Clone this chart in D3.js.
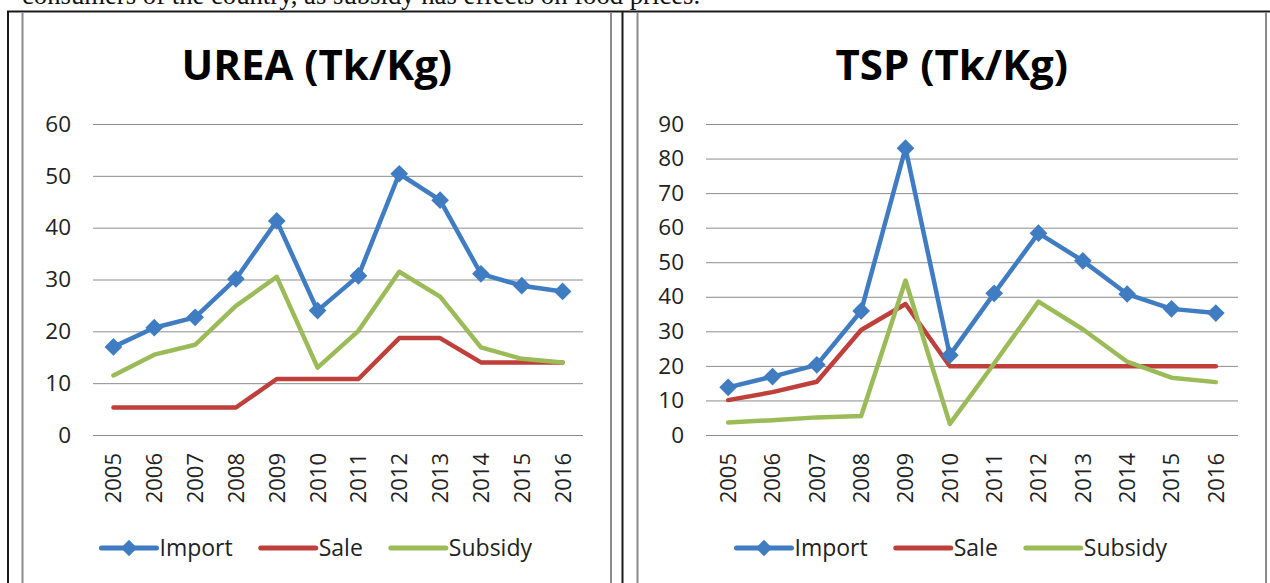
<!DOCTYPE html>
<html>
<head>
<meta charset="utf-8">
<script src="https://cdn.jsdelivr.net/npm/d3@7"></script>
<style>
  html, body { margin: 0; padding: 0; background: #ffffff; }
  svg { display: block; }
</style>
</head>
<body>
<svg id="root" width="1270" height="583"></svg>
<script>
// ---------- data ----------
const years = ["2005","2006","2007","2008","2009","2010","2011","2012","2013","2014","2015","2016"];
const seriesNames = ["Import", "Sale", "Subsidy"];

const ureaImport  = [17.0, 20.7, 22.7, 30.1, 41.3, 24.0, 30.7, 50.4, 45.3, 31.1, 28.8, 27.7];
const ureaSale    = [5.3, 5.3, 5.3, 5.3, 10.8, 10.8, 10.8, 18.7, 18.7, 14.0, 14.0, 14.0];
const ureaSubsidy = [11.5, 15.5, 17.4, 24.9, 30.5, 13.0, 20.1, 31.5, 26.7, 16.9, 14.7, 14.0];
const ureaTicks   = [0, 10, 20, 30, 40, 50, 60];

const tspImport  = [13.8, 16.9, 20.3, 35.9, 83.0, 23.1, 41.0, 58.4, 50.4, 40.8, 36.5, 35.3];
const tspSale    = [10.1, 12.4, 15.4, 30.4, 37.9, 19.9, 19.9, 19.9, 19.9, 19.9, 19.9, 19.9];
const tspSubsidy = [3.6, 4.3, 5.1, 5.5, 44.7, 3.2, 20.7, 38.6, 30.6, 21.2, 16.6, 15.3];
const tspTicks   = [0, 10, 20, 30, 40, 50, 60, 70, 80, 90];

const titles = ["UREA (Tk/Kg)", "TSP (Tk/Kg)"];
const captionText = "consumers of the country, as subsidy has effects on food prices.";

// ---------- styles ----------
const colors = { Import: "#3F7CC2", Sale: "#BF3F3A", Subsidy: "#9BBB59" };
const FONT = "'Open Sans', 'DejaVu Sans', sans-serif";

const svg = d3.select("#root");

// caption line (cut off at top, as in the source page)
svg.append("text")
  .attr("x", 22).attr("y", 4)
  .attr("font-family", "'Liberation Serif', 'Times New Roman', serif")
  .attr("font-size", 26.7)
  .attr("fill", "#111")
  .text(captionText);

// table borders
svg.append("line").attr("x1", 7).attr("x2", 1270).attr("y1", 11.5).attr("y2", 11.5)
  .attr("stroke", "#1a1a1a").attr("stroke-width", 2);
svg.append("line").attr("x1", 8).attr("x2", 8).attr("y1", 11).attr("y2", 583)
  .attr("stroke", "#1a1a1a").attr("stroke-width", 2);
svg.append("line").attr("x1", 622.5).attr("x2", 622.5).attr("y1", 11).attr("y2", 583)
  .attr("stroke", "#1a1a1a").attr("stroke-width", 2);

// chart configs
const charts = [
  { title: titles[0], ticks: ureaTicks, max: 60,
    data: { Import: ureaImport, Sale: ureaSale, Subsidy: ureaSubsidy },
    box: [22.5, 611], plot: { left: 93, right: 583, top: 124, bottom: 435 } },
  { title: titles[1], ticks: tspTicks, max: 90,
    data: { Import: tspImport, Sale: tspSale, Subsidy: tspSubsidy },
    box: [637.5, 1266], plot: { left: 706, right: 1238, top: 124, bottom: 435 } }
];

charts.forEach(cfg => {
  const g = svg.append("g");
  // chart frame (gray)
  g.append("line").attr("x1", cfg.box[0]).attr("x2", cfg.box[0]).attr("y1", 12).attr("y2", 583)
    .attr("stroke", "#8a8a8a").attr("stroke-width", 2);
  g.append("line").attr("x1", cfg.box[1]).attr("x2", cfg.box[1]).attr("y1", 12).attr("y2", 583)
    .attr("stroke", "#8a8a8a").attr("stroke-width", 2);

  const cx = (cfg.box[0] + cfg.box[1]) / 2;
  g.append("text").attr("x", cx).attr("y", 80)
    .attr("text-anchor", "middle")
    .attr("font-family", FONT).attr("font-weight", 700).attr("font-size", 42)
    .attr("fill", "#000").text(cfg.title);

  const p = cfg.plot;
  const x = d3.scaleBand().domain(years).range([p.left, p.right]);
  const y = d3.scaleLinear().domain([0, cfg.max]).range([p.bottom, p.top]);

  // gridlines + y labels
  const yAxis = d3.axisLeft(y).tickValues(cfg.ticks).tickSize(-(p.right - p.left)).tickPadding(22);
  const ya = g.append("g").attr("transform", `translate(${p.left},0)`).call(yAxis);
  ya.select(".domain").remove();
  ya.selectAll(".tick line").attr("stroke", "#8c8c8c").attr("stroke-width", 1);
  ya.selectAll(".tick text").attr("font-family", FONT).attr("font-size", 22.5).attr("fill", "#222");

  // x labels rotated
  const xAxis = d3.axisBottom(x).tickSize(0).tickPadding(0);
  const xa = g.append("g").attr("transform", `translate(0,${p.bottom})`).call(xAxis);
  xa.select(".domain").remove();
  xa.selectAll(".tick text")
    .attr("font-family", FONT).attr("font-size", 22).attr("fill", "#222")
    .attr("transform", "rotate(-90)")
    .attr("text-anchor", "end")
    .attr("x", -18).attr("y", 0).attr("dy", "0.36em");

  const line = d3.line().x((d, i) => x(years[i]) + x.bandwidth() / 2).y(d => y(d));

  ["Sale", "Subsidy", "Import"].forEach(name => {
    g.append("path").datum(cfg.data[name])
      .attr("d", line).attr("fill", "none")
      .attr("stroke", colors[name]).attr("stroke-width", 4.5)
      .attr("stroke-linejoin", "round").attr("stroke-linecap", "round");
  });

  const diamond = d3.symbol().type(d3.symbolDiamond2).size(200);
  g.selectAll(".mk").data(cfg.data.Import).join("path")
    .attr("transform", (d, i) => `translate(${x(years[i]) + x.bandwidth() / 2},${y(d)})`)
    .attr("d", diamond)
    .attr("fill", colors.Import);

  // legend
  const lg = g.append("g");
  const ly = 548;
  let cur = 0;
  seriesNames.forEach(name => {
    const it = lg.append("g").attr("transform", `translate(${cur},0)`);
    it.append("line").attr("x1", 0).attr("x2", 55).attr("y1", ly).attr("y2", ly)
      .attr("stroke", colors[name]).attr("stroke-width", 5).attr("stroke-linecap", "round");
    if (name === "Import") {
      it.append("path").attr("d", d3.symbol().type(d3.symbolDiamond2).size(170)())
        .attr("transform", `translate(27.5,${ly})`).attr("fill", colors[name]);
    }
    const t = it.append("text").attr("x", 58).attr("y", ly).attr("dy", "0.36em")
      .attr("font-family", FONT).attr("font-size", 23).attr("fill", "#222").text(name);
    const w = t.node().getComputedTextLength();
    cur += 58 + w + 28;
  });
  const total = cur - 28;
  lg.attr("transform", `translate(${cx - total / 2},0)`);
});
</script>
</body>
</html>
